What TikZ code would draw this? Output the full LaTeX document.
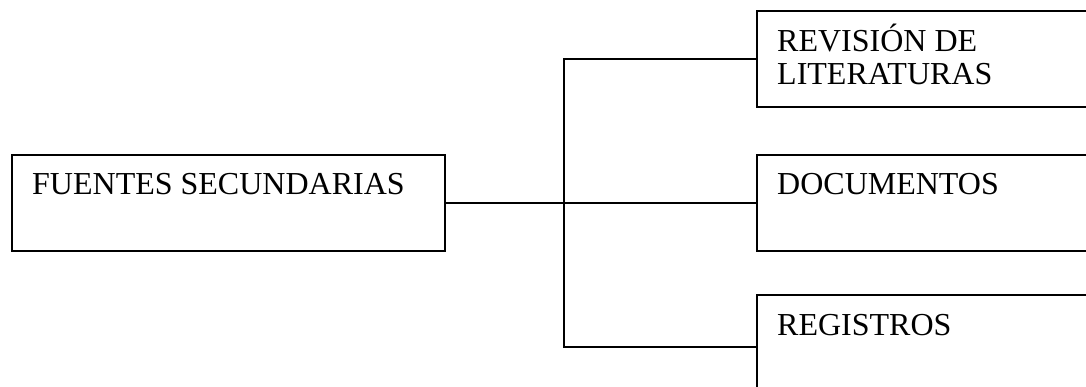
\documentclass[tikz,border=0pt]{standalone}
\usepackage{fontspec}
\setmainfont{Liberation Serif}
\begin{document}
\begin{tikzpicture}[x=1pt,y=-1pt,
  box/.style={draw=black, line width=1.7pt, inner sep=0pt, anchor=north west, fill=none},
  lbl/.style={inner sep=0pt, anchor=base west, align=left, font=\fontsize{32}{33}\selectfont},
  conn/.style={draw=black, line width=1.7pt}]
\useasboundingbox[fill=white] (0,0) rectangle (1086,387);
\node[box, minimum width=433pt, minimum height=96pt] (fs) at (11,154) {};
\node[box, minimum width=344pt, minimum height=96pt] (rev) at (756,10) {};
\node[box, minimum width=344pt, minimum height=96pt] (doc) at (756,154) {};
\node[box, minimum width=344pt, minimum height=104pt] (reg) at (756,294) {};
\node[lbl] (tfs) at (32,195) {FUENTES SECUNDARIAS};
\node[lbl] (trev) at (777,85) {REVISIÓN DE\\LITERATURAS};
\node[lbl] (tdoc) at (777,195) {DOCUMENTOS};
\node[lbl] (treg) at (777,335) {REGISTROS};
\coordinate (j) at (564,204);
\draw[conn] (fs.east) -- (doc.west);
\draw[conn] (rev.west) -- (rev.west -| j) -- (reg.west -| j) -- (reg.west);
\end{tikzpicture}
\end{document}
